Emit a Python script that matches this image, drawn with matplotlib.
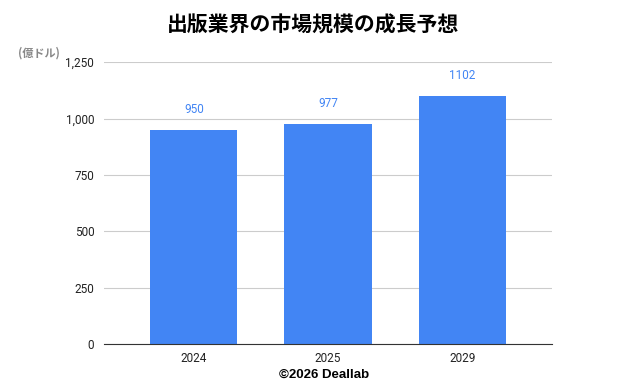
import matplotlib
matplotlib.use('Agg')
import matplotlib.pyplot as plt

plt.rcParams['font.family'] = ['Noto Sans CJK JP', 'DejaVu Sans']

years = ['2024', '2025', '2029']
values = [950, 977, 1102]
yticks = [0, 250, 500, 750, 1000, 1250]
ytick_labels = ['0', '250', '500', '750', '1,000', '1,250']

fig = plt.figure(figsize=(6.26, 3.86), dpi=100)
ax = fig.add_axes([0.166, 0.109, 0.716, 0.730])

x = range(len(years))
ax.bar(x, values, width=0.65, color='#4285F4', zorder=2)
for i, v in enumerate(values):
    ax.annotate(str(v), (i, v), xytext=(0, 10), textcoords='offset points',
                ha='center', va='bottom', color='#4285F4', fontsize=8.5,
                family=['Roboto', 'DejaVu Sans'])

ax.set_xlim(-0.67, 2.67)
ax.set_ylim(0, 1250)
ax.set_yticks(yticks)
ax.set_yticklabels(ytick_labels, family=['Roboto', 'DejaVu Sans'], fontsize=8.5, color='#222222')
ax.set_xticks(list(x))
ax.set_xticklabels(years, family=['Roboto', 'DejaVu Sans'], fontsize=8.5, color='#222222')
ax.grid(axis='y', color='#cccccc', linewidth=0.8, zorder=0)
ax.tick_params(axis='y', length=0, pad=7)
ax.tick_params(axis='x', length=0, pad=6)
for s in ['top', 'right', 'left']:
    ax.spines[s].set_visible(False)
ax.spines['bottom'].set_color('#333333')
ax.spines['bottom'].set_zorder(3)

fig.text(0.5, 0.935, '出版業界の市場規模の成長予想', ha='center', va='center',
         fontsize=15, fontweight='bold')
fig.text(0.028, 0.862, '(億ドル)', ha='left', va='center', fontsize=8,
         color='#888888', fontweight='bold')
fig.text(0.517, 0.03, '©2026 Deallab', ha='center', va='center', fontsize=9.5,
         fontweight='bold', family=['Liberation Sans', 'DejaVu Sans'])

fig.savefig('out.png', dpi=100)
